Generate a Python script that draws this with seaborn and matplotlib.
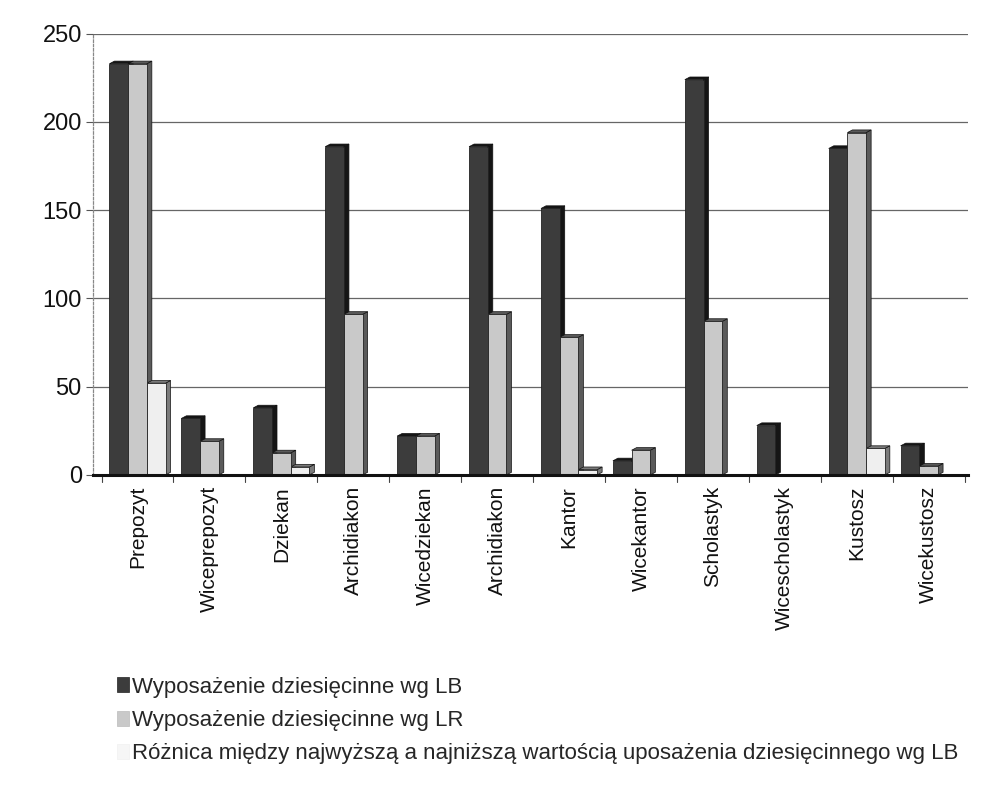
import numpy as np
import pandas as pd
import matplotlib
matplotlib.use("Agg")
import matplotlib.pyplot as plt
from matplotlib.patches import Polygon, Patch
import seaborn as sns

categories = ["Prepozyt", "Wiceprepozyt", "Dziekan", "Archidiakon", "Wicedziekan",
              "Archidiakon", "Kantor", "Wicekantor", "Scholastyk", "Wicescholastyk",
              "Kustosz", "Wicekustosz"]
lb_values = [233, 32, 38, 186, 22, 186, 151, 8, 224, 28, 185, 16.5]
lr_values = [233, 19, 12.5, 91, 22, 91, 78, 14, 87, 0, 194, 5]
diff_values = [52, 0, 4.5, 0, 0, 0, 3, 0, 0, 0, 15, 0]
series_names = ["Wyposażenie dziesięcinne wg LB",
                "Wyposażenie dziesięcinne wg LR",
                "Różnica między najwyższą a najniższą wartością uposażenia dziesięcinnego wg LB"]
y_ticks = [0, 50, 100, 150, 200, 250]

colors = ["#3c3c3c", "#c9c9c9", "#efefef"]
side_colors = ["#151515", "#5a5a5a", "#7a7a7a"]
hex_colors = [matplotlib.colors.to_hex(c) for c in colors]

rows = []
for i, c in enumerate(categories):
    for s, vals in zip(series_names, [lb_values, lr_values, diff_values]):
        rows.append({"pos": i, "series": s, "value": vals[i]})
df = pd.DataFrame(rows)

sns.set_theme(style="white")
plt.rcParams["font.family"] = ["Liberation Sans", "DejaVu Sans"]

fig = plt.figure(figsize=(9.88, 7.85), dpi=100)
ax = fig.add_axes([0.094, 0.395, 0.886, 0.562])

sns.barplot(data=df, x="pos", y="value", hue="series", hue_order=series_names,
            palette=colors, width=0.78, ax=ax, legend=False,
            edgecolor="#222222", linewidth=0.6)

# 3D-like side and top faces derived from each bar patch
depth_x = 0.07
depth_y = 1.5
for p in list(ax.patches):
    h = p.get_height()
    if h <= 0:
        continue
    x0 = p.get_x()
    w = p.get_width()
    fc = matplotlib.colors.to_hex(p.get_facecolor())
    idx = hex_colors.index(fc) if fc in hex_colors else 0
    side = Polygon([[x0 + w, 0], [x0 + w + depth_x, depth_y], [x0 + w + depth_x, h + depth_y], [x0 + w, h]],
                   closed=True, facecolor=side_colors[idx], edgecolor="#111111", lw=0.5, zorder=p.get_zorder() - 0.1)
    top = Polygon([[x0, h], [x0 + depth_x, h + depth_y], [x0 + w + depth_x, h + depth_y], [x0 + w, h]],
                  closed=True, facecolor=side_colors[idx], edgecolor="#111111", lw=0.5, zorder=p.get_zorder() - 0.1)
    ax.add_patch(side)
    ax.add_patch(top)

ax.set_ylim(0, 250)
ax.set_xlim(-0.62, len(categories) - 0.45)
ax.set_yticks(y_ticks)
ax.set_yticklabels([str(t) for t in y_ticks], fontsize=17, color="#111111")
ax.set_xticks(range(len(categories)))
ax.set_xticklabels(categories, rotation=90, fontsize=15, color="#111111")
ax.tick_params(axis="x", length=0, pad=8)
ax.tick_params(axis="y", length=5, width=0.8, color="#555555", left=True, pad=3)
ax.set_xlabel("")
ax.set_ylabel("")

ax.yaxis.grid(True, color="#666666", lw=0.9)
ax.set_axisbelow(True)
for s in ["top", "right"]:
    ax.spines[s].set_visible(False)
ax.spines["left"].set_color("#888888")
ax.spines["left"].set_linestyle((0, (2, 1.5)))
ax.spines["left"].set_linewidth(0.9)
ax.spines["bottom"].set_color("#111111")
ax.spines["bottom"].set_linewidth(2.2)

# small boundary ticks on x axis
for b in np.arange(-0.5, len(categories), 1.0):
    ax.plot([b, b], [0, -4], color="#444444", lw=0.8, clip_on=False)

handles = [Patch(facecolor=colors[0], edgecolor="#222222", lw=0.5),
           Patch(facecolor=colors[1], edgecolor="#bbbbbb", lw=0.5),
           Patch(facecolor="#f6f6f6", edgecolor="#f0f0f0", lw=0.5)]
fig.legend(handles, series_names, loc="upper left", bbox_to_anchor=(0.118, 0.138),
           frameon=False, fontsize=16, handlelength=0.55, handleheight=0.65,
           handletextpad=0.15, labelspacing=0.55, borderpad=0, borderaxespad=0)

fig.savefig("out.png", dpi=100, facecolor="white")
